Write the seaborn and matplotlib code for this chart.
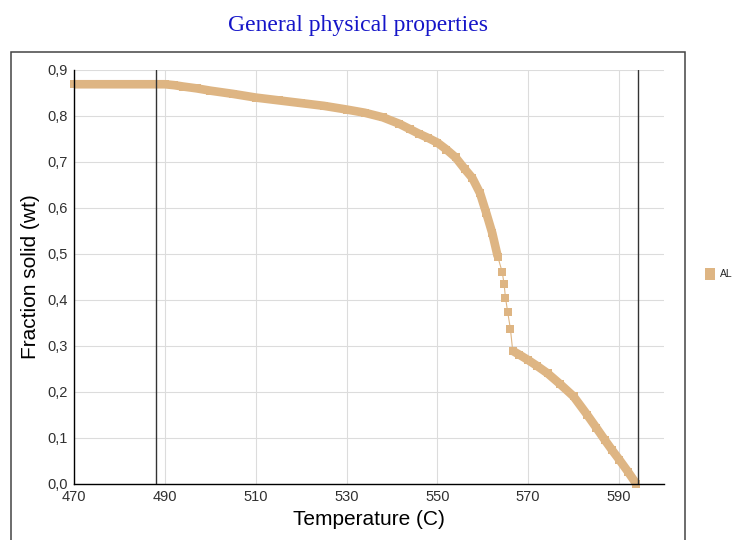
import matplotlib
matplotlib.use("Agg")
import matplotlib.pyplot as plt
from matplotlib.patches import Patch, Rectangle
from matplotlib.ticker import MultipleLocator, FixedLocator, FuncFormatter
import seaborn as sns
import pandas as pd

# Solidification curve of the AL alloy: fraction solid vs temperature
temp_upper = [470, 480, 490, 492, 494, 497, 500, 505, 510, 515, 520, 525, 530,
              534, 538, 541.6, 544, 546, 548, 550, 552, 554, 556, 557.7, 559.4,
              560.8, 562.1, 563.3]
frac_upper = [0.869, 0.869, 0.869, 0.867, 0.864, 0.860, 0.855, 0.848, 0.840,
              0.834, 0.828, 0.822, 0.814, 0.807, 0.797, 0.783, 0.771, 0.761,
              0.752, 0.742, 0.727, 0.710, 0.685, 0.665, 0.632, 0.588, 0.545,
              0.494]

temp_step = [563.3, 564.3, 564.7, 565.0, 565.5, 566.1, 566.6]
frac_step = [0.494, 0.460, 0.434, 0.405, 0.373, 0.336, 0.289]

temp_lower = [566.6, 568, 570, 572, 574.3, 577, 580, 583, 585, 586.9, 588.5,
              590.1, 592, 593.8]
frac_lower = [0.289, 0.281, 0.269, 0.256, 0.240, 0.217, 0.190, 0.150, 0.122,
              0.095, 0.073, 0.052, 0.026, 0.0]

# Vertical reference lines (solidus / liquidus markers)
ref_temps = [488.0, 594.1]

series_name = "AL"
x_ticks = [470, 490, 510, 530, 550, 570, 590]
y_ticks = [0.0, 0.1, 0.2, 0.3, 0.4, 0.5, 0.6, 0.7, 0.8, 0.9]

COLOR = "#DEB583"
W, H = 739, 540

sns.set_theme(style="white")
plt.rcParams["font.family"] = ["Liberation Sans", "DejaVu Sans"]

fig = plt.figure(figsize=(W / 100, H / 100), dpi=100)
fig.patch.set_facecolor("white")

# outer frame around the chart body (runs past the lower edge)
fig.patches.append(Rectangle((11 / W, -0.1), (685 - 11) / W, 1.1 - 52 / H,
                             transform=fig.transFigure, fill=False,
                             edgecolor="#444444", linewidth=1.1, zorder=0))

ax = fig.add_axes([74.3 / W, 1 - 483.7 / H, 590 / W, 413.7 / H])
ax.set_facecolor("white")

df_upper = pd.DataFrame({"T": temp_upper, "f": frac_upper})
df_step = pd.DataFrame({"T": temp_step, "f": frac_step})
df_lower = pd.DataFrame({"T": temp_lower, "f": frac_lower})

for d in (df_upper, df_lower):
    sns.lineplot(data=d, x="T", y="f", ax=ax, sort=False, estimator=None,
                 color=COLOR, linewidth=6.2, solid_capstyle="butt",
                 marker="s", markersize=6.2, markeredgewidth=0,
                 markerfacecolor=COLOR, zorder=4, clip_on=False)
sns.lineplot(data=df_step, x="T", y="f", ax=ax, sort=False, estimator=None,
             color=COLOR, linewidth=0.8, marker="s", markersize=6.0,
             markeredgewidth=0, markerfacecolor=COLOR, zorder=4, clip_on=False)

for t in ref_temps:
    ax.axvline(t, ymin=0, ymax=1, color="#333333", linewidth=1.0, zorder=5)

ax.set_xlim(470, 600)
ax.set_ylim(0, 0.9)
ax.xaxis.set_major_locator(FixedLocator(x_ticks))
ax.xaxis.set_minor_locator(MultipleLocator(10))
ax.yaxis.set_major_locator(FixedLocator(y_ticks))
ax.yaxis.set_minor_locator(MultipleLocator(0.05))
ax.xaxis.set_major_formatter(FuncFormatter(lambda v, _: f"{v:.0f}"))
ax.yaxis.set_major_formatter(FuncFormatter(lambda v, _: f"{v:.1f}".replace(".", ",")))

ax.grid(True, which="major", color="#dcdcdc", linewidth=0.8, zorder=0)
ax.set_axisbelow(True)
for s in ("top", "right"):
    ax.spines[s].set_visible(False)
for s in ("left", "bottom"):
    ax.spines[s].set_color("black")
    ax.spines[s].set_linewidth(1.0)
    ax.spines[s].set_zorder(6)

ax.tick_params(which="both", direction="inout", length=4.0, width=0.8,
               color="black", labelsize=10.5, labelcolor="#303030", pad=2.5)

ax.set_xlabel("Temperature (C)", fontsize=15, color="black")
ax.set_ylabel("Fraction solid (wt)", fontsize=15, color="black")
ax.xaxis.set_label_coords(0.5, -0.064)
ax.yaxis.set_label_coords(-0.0575, 0.5)

fig.text(358 / W, 1 - 31 / H, "General physical properties", ha="center",
         va="baseline", fontsize=17, color="#1515C8",
         family=["Liberation Serif", "DejaVu Serif"])

handle = Patch(facecolor=COLOR, edgecolor="none")
fig.legend([handle], [series_name], loc="center left",
           bbox_to_anchor=(705 / W, 1 - 274 / H), frameon=False,
           fontsize=7.5, handlelength=1.0, handleheight=1.4,
           handletextpad=0.4, borderaxespad=0, borderpad=0)

fig.savefig("out.png", dpi=100, facecolor="white")
